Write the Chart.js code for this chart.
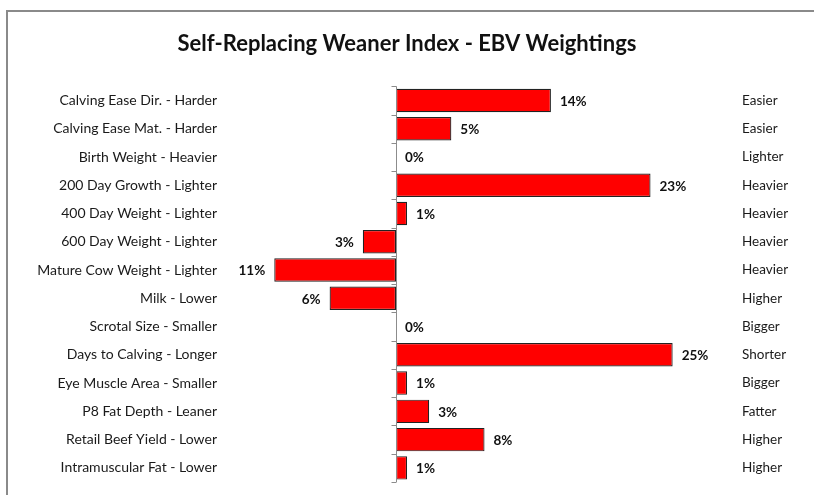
<!DOCTYPE html>
<html>
<head>
<meta charset="utf-8">
<script src="https://cdn.jsdelivr.net/npm/chart.js@4/dist/chart.umd.min.js"></script>
<style>
  html, body { margin: 0; padding: 0; background: #ffffff; overflow: hidden; }
  #wrap { position: relative; width: 814px; height: 495px; }
  canvas { display: block; }
</style>
</head>
<body>
<div id="wrap"><canvas id="c" width="814" height="495"></canvas></div>
<script>
const categories = [
  "Calving Ease Dir. - Harder",
  "Calving Ease Mat. - Harder",
  "Birth Weight - Heavier",
  "200 Day Growth - Lighter",
  "400 Day Weight - Lighter",
  "600 Day Weight - Lighter",
  "Mature Cow Weight - Lighter",
  "Milk - Lower",
  "Scrotal Size - Smaller",
  "Days to Calving - Longer",
  "Eye Muscle Area - Smaller",
  "P8 Fat Depth - Leaner",
  "Retail Beef Yield - Lower",
  "Intramuscular Fat - Lower"
];
const rightLabels = [
  "Easier", "Easier", "Lighter", "Heavier", "Heavier", "Heavier", "Heavier",
  "Higher", "Bigger", "Shorter", "Bigger", "Fatter", "Higher", "Higher"
];
const weightings = [14, 5, 0, 23, 1, -3, -11, -6, 0, 25, 1, 3, 8, 1];
const valueLabels = ["14%", "5%", "0%", "23%", "1%", "3%", "11%", "6%", "0%", "25%", "1%", "3%", "8%", "1%"];

const FONT = "Lato, 'Open Sans', sans-serif";

const framePlugin = {
  id: 'frame',
  beforeDraw(chart) {
    const ctx = chart.ctx;
    ctx.save();
    ctx.fillStyle = '#ffffff';
    ctx.fillRect(0, 0, chart.width, chart.height);
    ctx.fillStyle = '#8a8a8a';
    ctx.fillRect(6, 10, chart.width - 6, 2);
    ctx.fillRect(6, 10, 2, chart.height - 10);
    ctx.restore();
  }
};

const axisPlugin = {
  id: 'zeroAxis',
  afterDatasetsDraw(chart) {
    const ctx = chart.ctx;
    const xs = chart.scales.x, ys = chart.scales.y;
    const x0 = Math.round(xs.getPixelForValue(0)) + 0.5;
    const top = chart.chartArea.top, bottom = chart.chartArea.bottom;
    ctx.save();
    ctx.strokeStyle = '#8c8c8c';
    ctx.lineWidth = 1;
    ctx.beginPath();
    ctx.moveTo(x0, top);
    ctx.lineTo(x0, bottom);
    const n = categories.length;
    for (let i = 0; i <= n; i++) {
      const yy = Math.round(ys.getPixelForValue(i - 0.5)) + 0.5;
      ctx.moveTo(x0 - 5, yy);
      ctx.lineTo(x0, yy);
    }
    ctx.stroke();

    // value labels
    const meta = chart.getDatasetMeta(0);
    ctx.font = "bold 13.5px " + FONT;
    ctx.fillStyle = '#111111';
    ctx.textBaseline = 'middle';
    meta.data.forEach((bar, i) => {
      const v = weightings[i];
      const lbl = valueLabels[i];
      if (v < 0) {
        ctx.textAlign = 'right';
        ctx.fillText(lbl, bar.x - 9, bar.y + 1);
      } else {
        ctx.textAlign = 'left';
        ctx.fillText(lbl, bar.x + 9, bar.y + 1);
      }
    });
    ctx.restore();
  }
};

new Chart(document.getElementById('c'), {
  type: 'bar',
  data: {
    labels: categories,
    datasets: [{
      data: weightings,
      backgroundColor: '#ff0000',
      borderColor: '#222222',
      borderWidth: 1.2,
      borderSkipped: false,
      barPercentage: 0.83,
      categoryPercentage: 1.0
    }]
  },
  options: {
    indexAxis: 'y',
    responsive: false,
    animation: false,
    devicePixelRatio: 1,
    layout: { padding: { top: 0, bottom: 13, left: 0, right: 0 } },
    plugins: {
      legend: { display: false },
      tooltip: { enabled: false },
      title: {
        display: true,
        text: 'Self-Replacing Weaner Index - EBV Weightings',
        color: '#111111',
        font: { family: FONT, size: 22, weight: 'bold' },
        padding: { top: 31, bottom: 29 }
      }
    },
    scales: {
      x: {
        display: false,
        min: -15,
        max: 30
      },
      y: {
        position: 'left',
        grid: { display: false, drawTicks: false },
        border: { display: false },
        ticks: {
          color: '#1a1a1a',
          font: { family: FONT, size: 14 },
          padding: 13,
          autoSkip: false
        },
        afterFit(scale) { scale.width = 230; scale.paddingTop = 0; scale.paddingBottom = 0; }
      },
      y2: {
        type: 'category',
        position: 'right',
        offset: true,
        grid: { display: false, drawTicks: false },
        border: { display: false },
        ticks: {
          color: '#1a1a1a',
          font: { family: FONT, size: 13.5 },
          padding: 14,
          autoSkip: false,
          callback: (val, i) => rightLabels[i]
        },
        afterFit(scale) { scale.width = 86; scale.paddingTop = 0; scale.paddingBottom = 0; }
      }
    }
  },
  plugins: [framePlugin, axisPlugin]
});
</script>
</body>
</html>
